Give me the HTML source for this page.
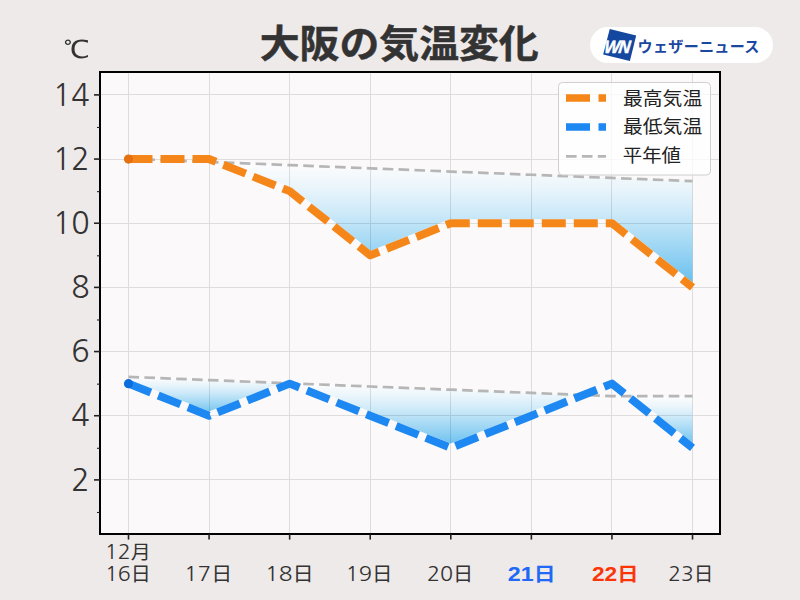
<!DOCTYPE html>
<html><head><meta charset="utf-8"><style>
html,body{margin:0;padding:0;background:#EEEAE9;}
body{width:800px;height:600px;overflow:hidden;position:relative;}
svg{position:absolute;left:0;top:0;}
text{font-family:"Liberation Sans","Noto Sans CJK JP",sans-serif;fill:#333;}
.yl text{font-size:29.8px;text-anchor:end;font-family:"NanumGothic",sans-serif;}
.xl text{font-size:21px;text-anchor:middle;}
.xl .d{font-size:20.2px;font-family:"NanumGothic",sans-serif;}
.xl .k{font-size:18.9px;}
.xl .sat{fill:#2068F5;font-weight:bold;}
.xl .sat .d,.xl .sun .d{font-family:"Liberation Sans",sans-serif;}
.xl .sun{fill:#FC3508;font-weight:bold;}
.title{font-family:"Noto Sans CJK JP",sans-serif;font-size:39.6px;font-weight:bold;fill:#333;stroke:#333;stroke-width:0.5px;text-anchor:middle;}
.lg text{font-family:"Noto Sans CJK JP",sans-serif;font-size:20px;fill:#222;}
</style></head><body>
<svg width="800" height="600" viewBox="0 0 800 600">
<defs>
<linearGradient id="g" x1="0" y1="0" x2="0" y2="1">
<stop offset="0" stop-color="#FEFDFD"/>
<stop offset="0.2" stop-color="#EAF5FB"/>
<stop offset="0.4" stop-color="#CEEAF9"/>
<stop offset="0.6" stop-color="#ACDCF5"/>
<stop offset="0.8" stop-color="#88CDF2"/>
<stop offset="1.0" stop-color="#60BDEE"/>
</linearGradient>
<clipPath id="ax"><rect x="100" y="72" width="620" height="462"/></clipPath>
</defs>
<rect x="100" y="72" width="620" height="462" fill="#FBF9FA"/>
<g><path d="M218.03,162.28 L289.65,165.13 L370.22,168.34 L450.80,171.55 L531.37,174.76 L611.94,177.97 L692.52,181.17 L692.52,287.40 L611.94,223.23 L531.37,223.23 L450.80,223.23 L370.22,255.31 L289.65,191.15 L218.03,162.63 Z" fill="url(#g)"/><path d="M128.50,376.88 L209.07,380.09 L289.65,383.30 L289.65,383.65 L209.07,415.73 L128.50,383.65 Z" fill="url(#g)"/><path d="M289.65,383.30 L370.22,386.51 L450.80,389.71 L531.37,392.92 L582.64,394.96 L582.64,395.31 L531.37,415.73 L450.80,447.81 L370.22,415.73 L289.65,383.65 Z" fill="url(#g)"/><path d="M628.06,396.13 L692.52,396.13 L692.52,447.81 L628.06,396.48 Z" fill="url(#g)"/></g>
<g clip-path="url(#ax)" fill="none" stroke-linejoin="round">
<path d="M128.50,159.07 L209.07,159.07 L289.65,191.15 L370.22,255.31 L450.80,223.23 L531.37,223.23 L611.94,223.23 L692.52,287.40" stroke="#FBF9FA" stroke-width="8"/>
<path d="M128.50,383.65 L209.07,415.73 L289.65,383.65 L370.22,415.73 L450.80,447.81 L531.37,415.73 L611.94,383.65 L692.52,447.81" stroke="#FBF9FA" stroke-width="8"/>
</g>
<g stroke="#000" stroke-width="1" opacity="0.11"><line x1="128.5" y1="72" x2="128.5" y2="534"/><line x1="209.5" y1="72" x2="209.5" y2="534"/><line x1="289.5" y1="72" x2="289.5" y2="534"/><line x1="370.5" y1="72" x2="370.5" y2="534"/><line x1="450.5" y1="72" x2="450.5" y2="534"/><line x1="531.5" y1="72" x2="531.5" y2="534"/><line x1="611.5" y1="72" x2="611.5" y2="534"/><line x1="692.5" y1="72" x2="692.5" y2="534"/><line x1="100" y1="479.5" x2="720" y2="479.5"/><line x1="100" y1="415.5" x2="720" y2="415.5"/><line x1="100" y1="351.5" x2="720" y2="351.5"/><line x1="100" y1="287.5" x2="720" y2="287.5"/><line x1="100" y1="223.5" x2="720" y2="223.5"/><line x1="100" y1="159.5" x2="720" y2="159.5"/><line x1="100" y1="94.5" x2="720" y2="94.5"/></g>
<g clip-path="url(#ax)" fill="none" stroke-linejoin="round">
<path d="M128.50,158.72 L209.07,161.92 L289.65,165.13 L370.22,168.34 L450.80,171.55 L531.37,174.76 L611.94,177.97 L692.52,181.17" stroke="#B6B6B6" stroke-width="2.7" stroke-dasharray="10.6 5.3"/>
<path d="M128.50,376.88 L209.07,380.09 L289.65,383.30 L370.22,386.51 L450.80,389.71 L531.37,392.92 L611.94,396.13 L692.52,396.13" stroke="#B6B6B6" stroke-width="2.7" stroke-dasharray="10.6 5.3"/>
<path d="M128.50,159.07 L209.07,159.07 L289.65,191.15 L370.22,255.31 L450.80,223.23 L531.37,223.23 L611.94,223.23 L692.52,287.40" stroke="#F5871A" stroke-width="8" stroke-dasharray="24 8"/>
<path d="M128.50,383.65 L209.07,415.73 L289.65,383.65 L370.22,415.73 L450.80,447.81 L531.37,415.73 L611.94,383.65 L692.52,447.81" stroke="#1E88F2" stroke-width="8" stroke-dasharray="24 8"/>
<circle cx="128.50" cy="159.07" r="4.6" fill="#E57010"/>
<circle cx="128.50" cy="383.65" r="4.6" fill="#0A6EDC"/>
</g>
<rect x="100" y="72" width="620" height="462" fill="none" stroke="#000" stroke-width="2"/>
<g stroke="#222" stroke-width="1.6"><line x1="94" y1="479.90" x2="100" y2="479.90"/><line x1="94" y1="415.73" x2="100" y2="415.73"/><line x1="94" y1="351.56" x2="100" y2="351.56"/><line x1="94" y1="287.40" x2="100" y2="287.40"/><line x1="94" y1="223.23" x2="100" y2="223.23"/><line x1="94" y1="159.07" x2="100" y2="159.07"/><line x1="94" y1="94.90" x2="100" y2="94.90"/><line x1="128.50" y1="534" x2="128.50" y2="539.6"/><line x1="209.07" y1="534" x2="209.07" y2="539.6"/><line x1="289.65" y1="534" x2="289.65" y2="539.6"/><line x1="370.22" y1="534" x2="370.22" y2="539.6"/><line x1="450.80" y1="534" x2="450.80" y2="539.6"/><line x1="531.37" y1="534" x2="531.37" y2="539.6"/><line x1="611.94" y1="534" x2="611.94" y2="539.6"/><line x1="692.52" y1="534" x2="692.52" y2="539.6"/></g>
<g stroke="#222" stroke-width="1.1"><line x1="97" y1="512.48" x2="100" y2="512.48"/><line x1="97" y1="448.31" x2="100" y2="448.31"/><line x1="97" y1="384.15" x2="100" y2="384.15"/><line x1="97" y1="319.98" x2="100" y2="319.98"/><line x1="97" y1="255.81" x2="100" y2="255.81"/><line x1="97" y1="191.65" x2="100" y2="191.65"/><line x1="97" y1="127.48" x2="100" y2="127.48"/></g>
<g class="yl"><text transform="translate(89.6,490.50) scale(1.02,1)">2</text><text transform="translate(89.6,426.33) scale(1.02,1)">4</text><text transform="translate(89.6,362.16) scale(1.02,1)">6</text><text transform="translate(89.6,298.00) scale(1.02,1)">8</text><text transform="translate(89.6,233.83) scale(1.02,1)">10</text><text transform="translate(89.6,169.67) scale(1.02,1)">12</text><text transform="translate(89.6,105.50) scale(1.02,1)">14</text></g>
<g class="xl"><text transform="translate(127.85,581) scale(1.059,1)"><tspan class="d">16</tspan><tspan class="k">日</tspan></text><text transform="translate(208.05,581) scale(1.111,1)"><tspan class="d">17</tspan><tspan class="k">日</tspan></text><text transform="translate(289.30,581) scale(1.122,1)"><tspan class="d">18</tspan><tspan class="k">日</tspan></text><text transform="translate(368.90,581) scale(1.082,1)"><tspan class="d">19</tspan><tspan class="k">日</tspan></text><text transform="translate(450.10,581) scale(1.065,1)"><tspan class="d">20</tspan><tspan class="k">日</tspan></text><text transform="translate(531.65,581) scale(1.154,1)" class="sat"><tspan class="d">21</tspan><tspan class="k">日</tspan></text><text transform="translate(615.25,581) scale(1.126,1)" class="sun"><tspan class="d">22</tspan><tspan class="k">日</tspan></text><text transform="translate(690.90,581) scale(1.039,1)"><tspan class="d">23</tspan><tspan class="k">日</tspan></text><text transform="translate(127.75,558.5) scale(1.059,1)"><tspan class="d">12</tspan><tspan class="k">月</tspan></text></g>
<text transform="translate(76.6,57.8) scale(1.13,1)" style="font-size:25px;text-anchor:middle;font-family:'WenQuanYi Zen Hei','Noto Sans CJK JP',sans-serif">℃</text>
<text class="title" transform="translate(399.2,57) scale(1.007,0.95)">大阪の気温変化</text>
<!-- legend -->
<g class="lg">
<rect x="558.5" y="82.5" width="152" height="92.5" rx="4" fill="#fff" fill-opacity="0.8" stroke="#D0D0D0"/>
<line x1="566" y1="98" x2="606" y2="98" stroke="#F5871A" stroke-width="7.5" stroke-dasharray="24 8.5"/>
<line x1="566" y1="127" x2="606" y2="127" stroke="#1E88F2" stroke-width="7.5" stroke-dasharray="24 8.5"/>
<line x1="566" y1="156.3" x2="606" y2="156.3" stroke="#B6B6B6" stroke-width="2.7" stroke-dasharray="10.6 5.3"/>
<text transform="translate(623,104.6) scale(0.99,0.92)">最高気温</text>
<text transform="translate(623,133.3) scale(0.99,0.92)">最低気温</text>
<text transform="translate(622.8,162) scale(0.97,0.92)">平年値</text>
</g>
<!-- logo -->
<rect x="590" y="27" width="183" height="36" rx="18" fill="#fff"/>
<polygon points="609.75,28.9 636.2,35.4 629.9,61 603.2,54.6" fill="#1447A0"/>
<text transform="translate(603.8,52.8) skewX(-7) scale(0.96,1.04)" style="font-family:'Liberation Sans',sans-serif;font-size:17px;font-weight:bold;font-style:italic;fill:#fff;stroke:#fff;stroke-width:0.5px;letter-spacing:-1.2px">WN</text>
<text x="637.6" y="51.5" style="font-family:'Noto Sans CJK JP',sans-serif;font-size:15.1px;letter-spacing:0.25px;font-weight:bold;fill:#1A47A0">ウェザーニュース</text>
</svg>
</body></html>
